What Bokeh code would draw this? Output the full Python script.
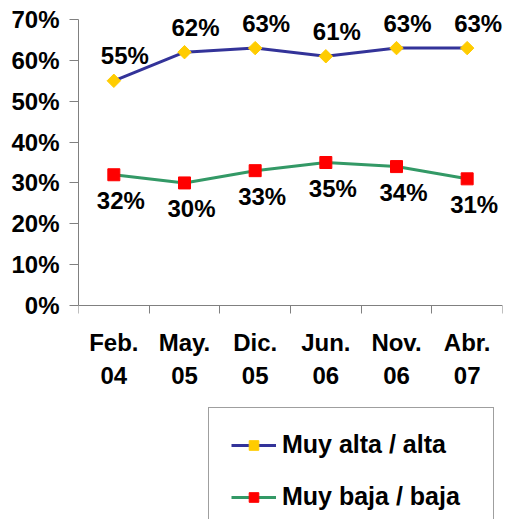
import numpy as np
from bokeh.plotting import figure
from bokeh.models import ColumnDataSource, FixedTicker, Legend, LegendItem, LabelSet, Range1d
from bokeh.core.properties import value
from bokeh.embed import file_html
from bokeh.resources import INLINE

categories = ["Feb.\n04", "May.\n05", "Dic.\n05", "Jun.\n06", "Nov.\n06", "Abr.\n07"]
alta = [55, 62, 63, 61, 63, 63]
baja = [32, 30, 33, 35, 34, 31]
y_ticks = [0, 10, 20, 30, 40, 50, 60, 70]
series_names = ["Muy alta / alta", "Muy baja / baja"]

FONT = "Liberation Sans"
FS = "24px"

# frame layout: 0% at 305px, 70% at 19px, frame spans 0..519px
PX_PER_UNIT = (305 - 19) / 70.0
Y_TOP = 70 + 19 / PX_PER_UNIT
Y_BOTTOM = -(519 - 305) / PX_PER_UNIT

x = np.arange(len(categories)) + 0.5
src = ColumnDataSource(dict(
    x=x, alta=alta, baja=baja,
    alta_lbl=[f"{v}%" for v in alta],
    baja_lbl=[f"{v}%" for v in baja],
))

p = figure(frame_width=424, frame_height=519, output_backend="svg", toolbar_location=None,
           x_range=Range1d(0, len(categories)), y_range=Range1d(Y_BOTTOM, Y_TOP),
           min_border_left=78, min_border_right=18, min_border_top=0, min_border_bottom=0)
p.outline_line_color = None
p.xgrid.visible = False
p.ygrid.visible = False

l1 = p.line("x", "alta", source=src, line_color="#333399", line_width=3)
m1 = p.scatter("x", "alta", source=src, marker="square", angle=np.pi / 4, size=9.5,
               fill_color="#FFCC00", line_color="#FFCC00")
l2 = p.line("x", "baja", source=src, line_color="#339966", line_width=3)
m2 = p.scatter("x", "baja", source=src, marker="square", size=12,
               fill_color="#FF0000", line_color="#FF0000")

for col, yo, xo in (("alta", 25, 11), ("baja", -26, 7)):
    p.add_layout(LabelSet(x="x", y=col, text=col + "_lbl", source=src,
                          x_offset=xo, y_offset=yo,
                          text_align="center", text_baseline="middle",
                          text_font=value(FONT), text_font_size=value(FS),
                          text_font_style="bold", text_color="black"))

# x axis drawn at y = 0
xa = p.xaxis[0]
xa.fixed_location = 0
xa.ticker = FixedTicker(ticks=list(x), minor_ticks=list(range(len(categories) + 1)))
xa.major_label_overrides = {float(xv): c for xv, c in zip(x, categories)}
xa.major_tick_line_color = None
xa.minor_tick_line_color = "#808080"
xa.minor_tick_in = 0
xa.minor_tick_out = 8
xa.major_tick_out = 8
xa.major_tick_in = 0
xa.major_label_standoff = 15
xa.axis_line_color = "#808080"
xa.major_label_text_font = FONT
xa.major_label_text_font_size = FS
xa.major_label_text_font_style = "bold"
xa.major_label_text_color = "black"
xa.major_label_text_line_height = 1.25

ya = p.yaxis[0]
ya.bounds = (0, 70)
ya.ticker = FixedTicker(ticks=y_ticks)
ya.major_label_overrides = {t: f"{t}%" for t in y_ticks}
ya.minor_tick_line_color = None
ya.major_tick_in = 0
ya.major_tick_out = 9
ya.major_tick_line_color = "#808080"
ya.axis_line_color = "#808080"
ya.major_label_standoff = 10
ya.major_label_text_font = FONT
ya.major_label_text_font_size = FS
ya.major_label_text_font_style = "bold"
ya.major_label_text_color = "black"

legend = Legend(items=[LegendItem(label=series_names[0], renderers=[l1, m1]),
                       LegendItem(label=series_names[1], renderers=[l2, m2])],
                location=(130, -15), margin=0)
legend.label_text_font = FONT
legend.label_text_font_size = "25px"
legend.label_text_font_style = "bold"
legend.label_text_color = "black"
legend.label_height = 24
legend.glyph_height = 24
legend.glyph_width = 45
legend.label_standoff = 6
legend.spacing = 23
legend.padding = 22
legend.label_width = 189
legend.border_line_color = "#404040"
legend.border_line_width = 1
legend.background_fill_alpha = 1
p.add_layout(legend, "center")

open("out.html", "w").write(file_html(p, INLINE))
